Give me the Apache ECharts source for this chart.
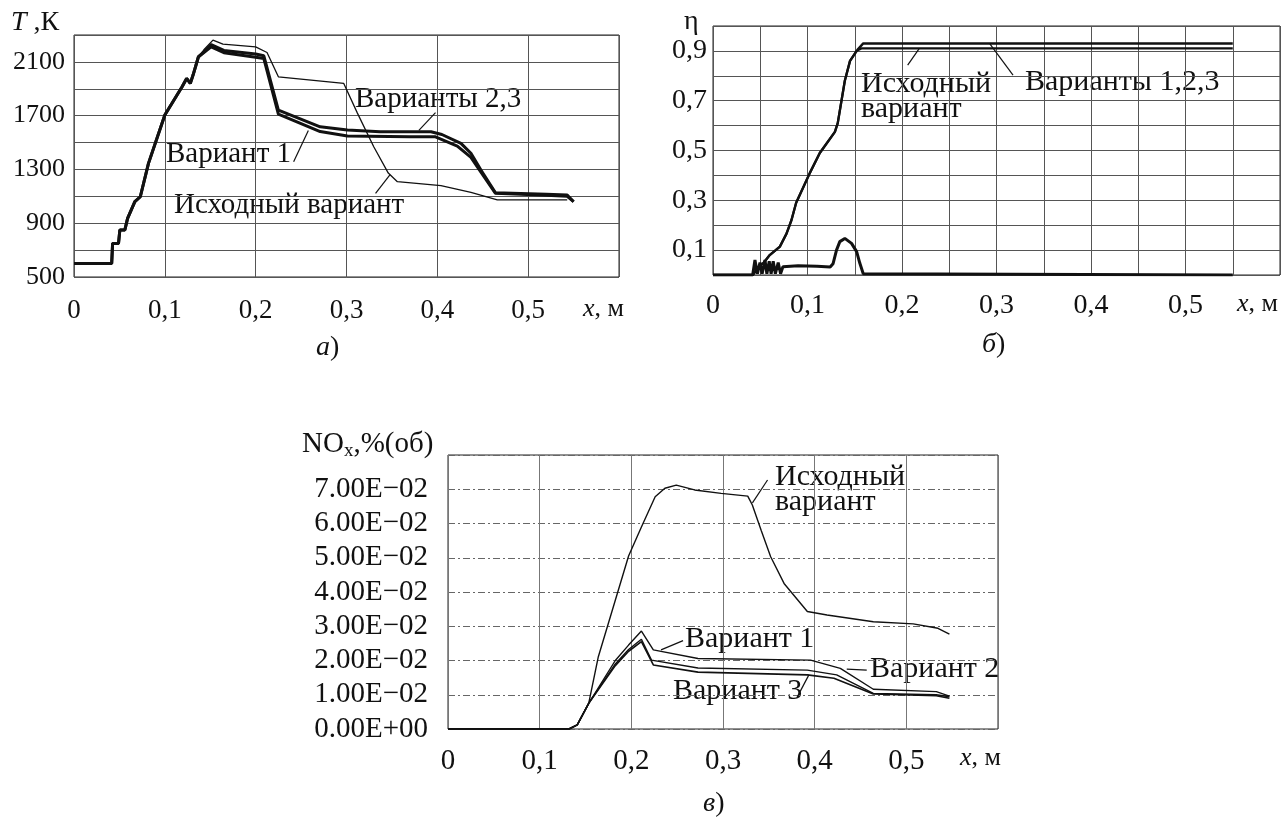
<!DOCTYPE html>
<html>
<head>
<meta charset="utf-8">
<script src="https://cdn.jsdelivr.net/npm/echarts@6/dist/echarts.min.js"></script>
<style>
  html, body { margin: 0; padding: 0; background: #fff; }
  #chart { width: 1285px; height: 823px; }
</style>
</head>
<body>
<div id="chart"></div>
<script>
// а) температура T, К
const aOrigX = [0, 0.0415, 0.0425, 0.049, 0.0505, 0.056, 0.059, 0.067, 0.073, 0.082, 0.100, 0.119, 0.124, 0.128, 0.131, 0.137, 0.143, 0.153, 0.164, 0.200, 0.2125, 0.225, 0.297, 0.312, 0.330, 0.346, 0.356, 0.404, 0.437, 0.466, 0.543]
const aOrigT = [600, 600, 750, 750, 850, 850, 936, 1060, 1097, 1345, 1705, 1915, 1977, 1940, 2000, 2138, 2190, 2262, 2232, 2212, 2170, 1989, 1940, 1719, 1469, 1273, 1209, 1179, 1130, 1073, 1073]
const aV23X = [0, 0.0415, 0.0425, 0.049, 0.0505, 0.056, 0.059, 0.067, 0.073, 0.082, 0.100, 0.119, 0.124, 0.128, 0.131, 0.137, 0.143, 0.151, 0.165, 0.200, 0.209, 0.225, 0.271, 0.301, 0.337, 0.393, 0.405, 0.426, 0.437, 0.448, 0.464, 0.520, 0.543, 0.550]
const aV23T = [600, 600, 750, 750, 850, 850, 936, 1060, 1097, 1345, 1705, 1915, 1977, 1940, 2000, 2138, 2175, 2228, 2185, 2158, 2145, 1742, 1617, 1593, 1580, 1580, 1560, 1494, 1420, 1296, 1127, 1115, 1110, 1060]
const aV1X = [0, 0.0415, 0.0425, 0.049, 0.0505, 0.056, 0.059, 0.067, 0.073, 0.082, 0.100, 0.119, 0.124, 0.128, 0.131, 0.137, 0.143, 0.151, 0.165, 0.200, 0.209, 0.225, 0.271, 0.301, 0.370, 0.398, 0.422, 0.437, 0.448, 0.464, 0.520, 0.543, 0.550]
const aV1T = [600, 600, 750, 750, 850, 850, 936, 1060, 1097, 1345, 1705, 1915, 1977, 1940, 2000, 2138, 2170, 2212, 2168, 2135, 2125, 1712, 1582, 1548, 1543, 1543, 1474, 1390, 1280, 1122, 1108, 1100, 1060]

// б) полнота сгорания η
const bV123X = [0, 0.042, 0.050, 0.0532, 0.060, 0.0708, 0.0779, 0.083, 0.088, 0.1025, 0.113, 0.129, 0.132, 0.1395, 0.145, 0.153, 0.159, 0.550]
const bV123 = [0, 0, 0.04, 0.047, 0.08, 0.114, 0.167, 0.22, 0.29, 0.41, 0.49, 0.575, 0.61, 0.78, 0.86, 0.905, 0.93, 0.93]
const bOrigX = [0, 0.042, 0.050, 0.0532, 0.060, 0.0708, 0.0779, 0.083, 0.088, 0.1025, 0.113, 0.129, 0.132, 0.1395, 0.145, 0.152, 0.157, 0.550]
const bOrig = [0, 0, 0.04, 0.047, 0.08, 0.114, 0.167, 0.22, 0.29, 0.41, 0.49, 0.575, 0.61, 0.78, 0.86, 0.9, 0.91, 0.91]
const bLowX = [0, 0.042, 0.0444, 0.047, 0.0497, 0.052, 0.055, 0.057, 0.0595, 0.0615, 0.0637, 0.066, 0.069, 0.0715, 0.074, 0.090, 0.110, 0.124, 0.127, 0.1307, 0.1342, 0.1395, 0.1466, 0.152, 0.1554, 0.159, 0.161, 0.550]
const bLow = [0, 0, 0.06, 0.005, 0.05, 0.005, 0.06, 0.005, 0.055, 0.005, 0.055, 0.005, 0.05, 0.005, 0.033, 0.037, 0.035, 0.032, 0.045, 0.10, 0.134, 0.147, 0.127, 0.094, 0.047, 0.005, 0, 0]

// в) NOx, %(об)
const cOrigX = [0, 0.132, 0.141, 0.1535, 0.164, 0.197, 0.211, 0.226, 0.2366, 0.249, 0.269, 0.298, 0.327, 0.332, 0.3416, 0.352, 0.3666, 0.392, 0.4135, 0.464, 0.5075, 0.5345, 0.547]
const cOrig = [0, 0, 0.0012, 0.0075, 0.0211, 0.0505, 0.059, 0.0678, 0.0703, 0.0712, 0.0698, 0.0688, 0.068, 0.0654, 0.058, 0.0503, 0.0425, 0.0343, 0.0333, 0.0313, 0.0307, 0.0294, 0.0277]
const cV1X = [0, 0.132, 0.141, 0.1535, 0.1825, 0.197, 0.211, 0.224, 0.2727, 0.3955, 0.428, 0.464, 0.5327, 0.547]
const cV1 = [0, 0, 0.0012, 0.0075, 0.020, 0.0245, 0.0286, 0.0231, 0.0206, 0.0201, 0.0177, 0.0116, 0.0109, 0.0096]
const cV2X = [0, 0.132, 0.141, 0.1535, 0.1825, 0.197, 0.211, 0.222, 0.2727, 0.392, 0.424, 0.464, 0.5327, 0.547]
const cV2 = [0, 0, 0.0012, 0.0075, 0.019, 0.0232, 0.0262, 0.0201, 0.0178, 0.0172, 0.0158, 0.0104, 0.0100, 0.0094]
const cV3X = [0, 0.132, 0.141, 0.1535, 0.1825, 0.197, 0.211, 0.224, 0.2727, 0.392, 0.421, 0.464, 0.5327, 0.547]
const cV3 = [0, 0, 0.0012, 0.0075, 0.0185, 0.0227, 0.0255, 0.0187, 0.0166, 0.0158, 0.0148, 0.0102, 0.0097, 0.0090]

const zip = (xs, ys) => xs.map((x, i) => [x, ys[i]])

const FONT = 'Liberation Serif'
const INK = '#111'

const comma = (v) => String(+v.toFixed(2)).replace('.', ',')
const xFmt = (v) => {
  const k = Math.round(v * 100)
  return k % 10 === 0 && k < 60 ? comma(k / 100) : ''
}
const expFmt = (v) => {
  if (v > 0.075) return ''
  if (Math.abs(v) < 1e-12) return '0.00E+00'
  const e = Math.floor(Math.log10(v) + 1e-9)
  const m = v / Math.pow(10, e)
  return m.toFixed(2) + 'E\u2212' + String(-e).padStart(2, '0')
}

const grid = (left, top, width, height) => ({
  left, top, width, height, show: true, borderColor: '#222', borderWidth: 1, backgroundColor: 'transparent'
})

const splitSolid = { show: true, lineStyle: { color: '#555', width: 1 } }

const xAxis = (gridIndex, interval, margin, size) => ({
  type: 'value', gridIndex, min: 0, max: 0.6, interval,
  axisLine: { show: false }, axisTick: { show: false },
  splitLine: gridIndex === 2 ? { show: true, lineStyle: { color: '#777', width: 1 } } : splitSolid,
  axisLabel: { formatter: xFmt, margin, color: INK, fontFamily: FONT, fontSize: size }
})

const line = (name, data, xi, width, extra) => Object.assign({
  name, type: 'line', data, xAxisIndex: xi, yAxisIndex: xi,
  showSymbol: false, symbol: 'none', animation: false, silent: true,
  lineStyle: { color: INK, width }
}, extra || {})

// выноски к подписям кривых (в координатах данных)
const leader = (segments) => ({
  markLine: {
    silent: true, symbol: 'none', animation: false, label: { show: false },
    lineStyle: { color: INK, width: 1.2, type: 'solid' },
    data: segments.map(s => [{ coord: s[0] }, { coord: s[1] }])
  }
})

const txt = (left, top, text, size, extra) => ({
  type: 'text', left, top,
  style: Object.assign({ text, font: `${size}px "${FONT}"`, fill: INK }, extra || {})
})

const option = {
  backgroundColor: '#fff',
  animation: false,
  grid: [grid(74, 35, 545, 242), grid(713, 26, 567, 249), grid(448, 455, 550, 274)],
  xAxis: [xAxis(0, 0.1, 20, 27), xAxis(1, 0.05, 17, 28), xAxis(2, 0.1, 18, 29)],
  yAxis: [
    {
      type: 'value', gridIndex: 0, min: 500, max: 2300, interval: 200,
      axisLine: { show: false }, axisTick: { show: false }, splitLine: splitSolid,
      axisLabel: { formatter: (v) => ((v - 500) % 400 === 0 && v < 2300 ? String(v) : ''), margin: 9, color: INK, fontFamily: FONT, fontSize: 26 }
    },
    {
      type: 'value', gridIndex: 1, min: 0, max: 1, interval: 0.1,
      axisLine: { show: false }, axisTick: { show: false }, splitLine: splitSolid,
      axisLabel: {
        formatter: (v) => { const k = Math.round(v * 10); return k % 2 === 1 ? '0,' + k : '' },
        margin: 6, color: INK, fontFamily: FONT, fontSize: 28
      }
    },
    {
      type: 'value', gridIndex: 2, min: 0, max: 0.08, interval: 0.01,
      axisLine: { show: false }, axisTick: { show: false },
      splitLine: { show: true, lineStyle: { color: '#666', width: 1, type: [7, 3, 2, 3] } },
      axisLabel: { formatter: expFmt, margin: 20, color: INK, fontFamily: FONT, fontSize: 29 }
    }
  ],
  series: [
    line('Исходный вариант', zip(aOrigX, aOrigT), 0, 1.3, leader([[[0.332, 1122], [0.348, 1262]]])),
    line('Вариант 1', zip(aV1X, aV1T), 0, 3, leader([[[0.2418, 1357], [0.258, 1590]]])),
    line('Варианты 2,3', zip(aV23X, aV23T), 0, 3, leader([[[0.3797, 1590], [0.398, 1722]]])),

    line('Исходный вариант', zip(bOrigX, bOrig), 1, 2.2, leader([[[0.206, 0.843], [0.218, 0.908]]])),
    line('Варианты 1,2,3', zip(bV123X, bV123), 1, 2.4, leader([[[0.293, 0.928], [0.3175, 0.803]]])),
    line('Начальный участок', zip(bLowX, bLow), 1, 3),

    line('Исходный вариант', zip(cOrigX, cOrig), 2, 1.4, leader([[[0.3321, 0.0660], [0.3486, 0.0727]]])),
    line('Вариант 1', zip(cV1X, cV1), 2, 1.4, leader([[[0.2324, 0.0231], [0.2564, 0.0258]]])),
    line('Вариант 2', zip(cV2X, cV2), 2, 1.4, leader([[[0.435, 0.0175], [0.4568, 0.0172]]])),
    line('Вариант 3', zip(cV3X, cV3), 2, 1.6, leader([[[0.3809, 0.0093], [0.3937, 0.0158]]]))
  ],
  graphic: [
    // а)
    txt(11, 9, '{i|T} ,К', 28, { rich: { i: { font: `italic 28px "${FONT}"` } } }),
    txt(355, 85, 'Варианты 2,3', 29),
    txt(166, 140, 'Вариант 1', 29),
    txt(174, 191, 'Исходный вариант', 29),
    txt(583, 296, '{i|x}, м', 26, { rich: { i: { font: `italic 26px "${FONT}"` } } }),
    txt(316, 334, '{i|а})', 28, { rich: { i: { font: `italic 28px "${FONT}"` } } }),
    // б)
    txt(684, 8, 'η', 28),
    txt(861, 69, 'Исходный\nвариант', 30, { lineHeight: 25 }),
    txt(1025, 67, 'Варианты 1,2,3', 30),
    txt(1237, 291, '{i|x}, м', 26, { rich: { i: { font: `italic 26px "${FONT}"` } } }),
    txt(982, 331, '{i|б})', 28, { rich: { i: { font: `italic 28px "${FONT}"` } } }),
    // в)
    txt(302, 430, 'NO{s|x},%(об)', 29, { rich: { s: { font: `19px "${FONT}"`, padding: [14, 0, 0, 0] } } }),
    txt(775, 462, 'Исходный\nвариант', 30, { lineHeight: 25 }),
    txt(685, 624, 'Вариант 1', 30),
    txt(870, 654, 'Вариант 2', 30),
    txt(673, 676, 'Вариант 3', 30),
    txt(960, 745, '{i|x}, м', 26, { rich: { i: { font: `italic 26px "${FONT}"` } } }),
    txt(703, 790, '{i|в})', 28, { rich: { i: { font: `italic 28px "${FONT}"` } } })
  ]
}

const chart = echarts.init(document.getElementById('chart'), null, { renderer: 'canvas' })
chart.setOption(option)
</script>
</body>
</html>
